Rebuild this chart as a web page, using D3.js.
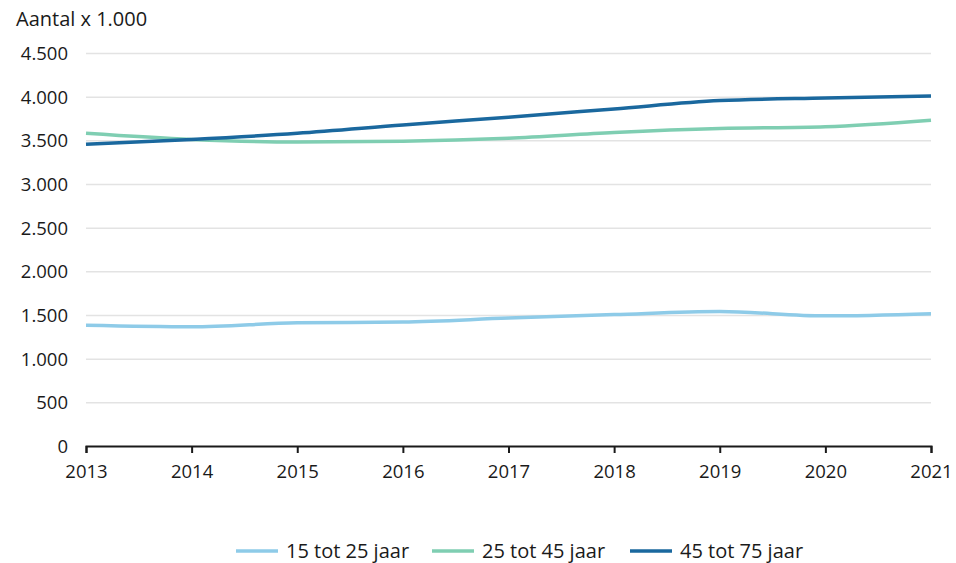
<!DOCTYPE html>
<html>
<head>
<meta charset="utf-8">
<script src="https://cdn.jsdelivr.net/npm/d3@7"></script>
<style>
    body { margin: 0; background: #fff; }
    svg, svg text { font-family: "Open Sans", sans-serif; }
    .grid line { stroke: #e3e3e3; stroke-width: 1.5; }
    .tick text { font-size: 18.5px; fill: #1a1a1a; font-family: "Open Sans", sans-serif; }
</style>
</head>
<body>
<div id="chart"></div>
<script>
// data
const years = [2013, 2014, 2015, 2016, 2017, 2018, 2019, 2020, 2021];
const age15to25 = [1382, 1365, 1410, 1420, 1465, 1505, 1540, 1490, 1515];
const age25to45 = [3580, 3510, 3480, 3490, 3525, 3590, 3635, 3655, 3730];
const age45to75 = [3455, 3510, 3580, 3675, 3765, 3860, 3955, 3985, 4008];
const seriesNames = ['15 tot 25 jaar', '25 tot 45 jaar', '45 tot 75 jaar'];
const seriesColors = ['#8ecbe8', '#7fceb2', '#1a689e'];
const yTicks = [0, 500, 1000, 1500, 2000, 2500, 3000, 3500, 4000, 4500];

const W = 956, H = 563;
const margin = {left: 86, right: 25, top: 53, bottom: 117};

const svg = d3.select('#chart')
    .append('svg')
    .attr('width', W)
    .attr('height', H);

const x = d3.scaleLinear()
    .domain([2013, 2021])
    .range([margin.left, W - margin.right]);

const y = d3.scaleLinear()
    .domain([0, 4500])
    .range([H - margin.bottom, margin.top]);

const fmt = d3.formatLocale({decimal: ',', thousands: '.', grouping: [3], currency: ['€', '']}).format(',');

// gridlines
svg.append('g')
    .attr('class', 'grid')
    .attr('transform', `translate(${margin.left},0)`)
    .call(d3.axisLeft(y).tickValues(yTicks.slice(1)).tickSize(-(W - margin.left - margin.right)).tickFormat(''))
    .call(g => g.select('.domain').remove());

// y labels
svg.append('g')
    .attr('transform', `translate(${margin.left - 18},0)`)
    .call(d3.axisLeft(y).tickValues(yTicks).tickSize(0).tickFormat(fmt))
    .call(g => g.select('.domain').remove())
    .call(g => g.selectAll('text').attr('dy', '0.35em').attr('x', 0));

// x axis
svg.append('g')
    .attr('transform', `translate(0,${y(0)})`)
    .call(d3.axisBottom(x).tickValues(years).tickFormat(d3.format('d')).tickSize(7).tickSizeOuter(7))
    .call(g => g.select('.domain').attr('stroke', '#1a1a1a').attr('stroke-width', 2))
    .call(g => g.selectAll('.tick line').attr('stroke', '#1a1a1a').attr('stroke-width', 2))
    .call(g => g.selectAll('.tick text').attr('y', 19));

svg.append('text')
    .attr('x', 16)
    .attr('y', 26)
    .attr('font-size', 20)
    .attr('fill', '#1a1a1a')
    .text('Aantal x 1.000');

const allSeries = [age15to25, age25to45, age45to75];
const line = d3.line()
    .x((d, i) => x(years[i]))
    .y(d => y(d))
    .curve(d3.curveMonotoneX);

svg.selectAll('path.series')
    .data(allSeries)
    .join('path')
    .attr('class', 'series')
    .attr('fill', 'none')
    .attr('stroke', (d, i) => seriesColors[i])
    .attr('stroke-width', 3.5)
    .attr('d', line);

// legend
const legendX = [236, 432, 630];
const legend = svg.selectAll('g.legend')
    .data(seriesNames)
    .join('g')
    .attr('class', 'legend')
    .attr('transform', (d, i) => `translate(${legendX[i]},551)`);

legend.append('line')
    .attr('x1', 0).attr('x2', 42)
    .attr('stroke', (d, i) => seriesColors[i])
    .attr('stroke-width', 3.5);

legend.append('text')
    .attr('x', 50)
    .attr('dy', '0.35em')
    .attr('font-size', 20)
    .attr('fill', '#1a1a1a')
    .text(d => d);
</script>
</body>
</html>
